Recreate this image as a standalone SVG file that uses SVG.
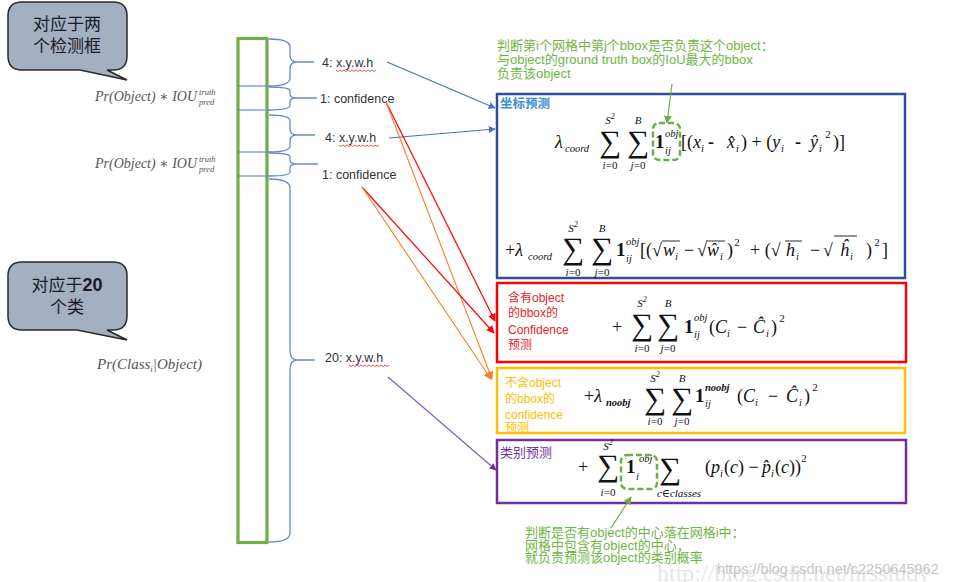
<svg xmlns="http://www.w3.org/2000/svg" width="967" height="582" viewBox="0 0 967 582">
<defs>
<style>
.lbl{font-family:"Liberation Sans","Noto Sans CJK SC",sans-serif;font-size:12.5px;fill:#333}
.cjk{font-family:"Liberation Sans","Noto Sans CJK SC",sans-serif}
.call{font-family:"Noto Sans CJK SC","Liberation Sans",sans-serif;font-size:17px;fill:#1a1a2a;text-anchor:middle}
.m{font-family:"Liberation Serif","DejaVu Serif",serif;font-size:18px;fill:#111}
.it{font-style:italic}
.sub{font-family:"Liberation Serif","DejaVu Serif",serif;font-size:10.5px;font-style:italic;fill:#111}
.lim{font-family:"Liberation Serif","DejaVu Serif",serif;font-size:11px;fill:#111;text-anchor:middle}
.sig{font-family:"Liberation Serif","DejaVu Serif",serif;font-size:31px;fill:#111;text-anchor:middle}
.one{font-family:"Liberation Serif","DejaVu Serif",serif;font-size:19px;font-weight:bold;fill:#111}
.pr{font-family:"Liberation Serif","DejaVu Serif",serif;font-style:italic;fill:#555}
.brace{fill:none;stroke:#6c86d4;stroke-width:1.3}
.div{stroke:#6c86d4;stroke-width:1.2}
.g{font-family:"Liberation Sans","Noto Sans CJK SC",sans-serif;font-size:13px;fill:#6fb544}
.dash{fill:none;stroke:#70ad47;stroke-width:2.5;stroke-dasharray:6,3}
.ol{stroke:#111;stroke-width:0.9}
</style>
<marker id="ab" viewBox="0 0 10 10" refX="9" refY="5" markerWidth="7" markerHeight="7" orient="auto" markerUnits="userSpaceOnUse"><path d="M0,0 L10,5 L0,10 z" fill="#4472c4"/></marker>
<marker id="ar" viewBox="0 0 10 10" refX="9" refY="5" markerWidth="8" markerHeight="8" orient="auto" markerUnits="userSpaceOnUse"><path d="M0,0 L10,5 L0,10 z" fill="#ff0000"/></marker>
<marker id="ao" viewBox="0 0 10 10" refX="9" refY="5" markerWidth="8" markerHeight="8" orient="auto" markerUnits="userSpaceOnUse"><path d="M0,0 L10,5 L0,10 z" fill="#f4822a"/></marker>
<marker id="ap" viewBox="0 0 10 10" refX="9" refY="5" markerWidth="7" markerHeight="7" orient="auto" markerUnits="userSpaceOnUse"><path d="M0,0 L10,5 L0,10 z" fill="#7030a0"/></marker>
<marker id="ag" viewBox="0 0 10 10" refX="9" refY="5" markerWidth="8" markerHeight="8" orient="auto" markerUnits="userSpaceOnUse"><path d="M0,0 L10,5 L0,10 z" fill="#70ad47"/></marker>
</defs>
<rect width="967" height="582" fill="#ffffff"/>

<!-- watermark -->
<g id="watermark">
<text x="657" y="581" font-family="Liberation Serif,serif" font-size="24" fill="#e6e6e6">http://blog.csdn.net/hrsstudy</text>
<text x="717" y="574" font-family="Liberation Sans,sans-serif" font-size="14.5" fill="#c6c6c6">https://blog.csdn.net/c2250645962</text>
</g>

<!-- callouts -->
<g id="callout1">
<path d="M22,2 H113 Q127,2 127,16 V56 Q127,70 113,70 H107 L127,80 L80,70 H22 Q8,70 8,56 V16 Q8,2 22,2 Z" fill="#a2b0c1" stroke="#2a2a2a" stroke-width="1.5"/>
<text class="call" x="67" y="30">对应于两</text>
<text class="call" x="67" y="52">个检测框</text>
</g>
<g id="callout2">
<path d="M22,262 H113 Q127,262 127,276 V316 Q127,330 113,330 H107 L127,340 L77,330 H22 Q8,330 8,316 V276 Q8,262 22,262 Z" fill="#a2b0c1" stroke="#2a2a2a" stroke-width="1.5"/>
<text class="call" x="67" y="291">对应于<tspan font-family="Liberation Sans,sans-serif" font-weight="bold" font-size="18">20</tspan></text>
<text class="call" x="67" y="313">个类</text>
</g>

<!-- left formulas -->
<g id="pr1"><text class="pr" x="95" y="101" font-size="14">Pr(Object) ∗ IOU</text><text class="pr" x="199" y="95" font-size="8.5">truth</text><text class="pr" x="199" y="105" font-size="8.5">pred</text></g>
<g id="pr2"><text class="pr" x="95" y="168" font-size="14">Pr(Object) ∗ IOU</text><text class="pr" x="199" y="162" font-size="8.5">truth</text><text class="pr" x="199" y="172" font-size="8.5">pred</text></g>
<g id="pr3"><text class="pr" x="97" y="369" font-size="15">Pr(Class<tspan font-size="9" dy="3">i</tspan><tspan dy="-3">|Object)</tspan></text></g>

<!-- output vector column -->
<g id="column">
<rect x="238" y="38.5" width="29" height="504" fill="none" stroke="#70ad47" stroke-width="3.2"/>
<line class="div" x1="238" y1="86" x2="270" y2="86"/>
<line class="div" x1="238" y1="110" x2="270" y2="110"/>
<line class="div" x1="238" y1="152" x2="270" y2="152"/>
<line class="div" x1="238" y1="176" x2="270" y2="176"/>
</g>

<g id="braces">
<path class="brace" d="M269,39 Q290,39 290,47 V55 Q290,62 297,62 H314 M269,86 Q290,86 290,78 V69 Q290,62 297,62"/>
<path class="brace" d="M269,87 Q290,87 290,91 V94 Q290,98 297,98 H317 M269,110 Q290,110 290,105 V102 Q290,98 297,98"/>
<path class="brace" d="M269,115 Q290,115 290,121 V129 Q290,135 297,135 H315 M269,152 Q290,152 290,146 V141 Q290,135 297,135"/>
<path class="brace" d="M269,153 Q290,153 290,157 V160 Q290,164 297,164 H318 M269,176 Q290,176 290,172 V168 Q290,164 297,164"/>
<path class="brace" d="M269,179 Q290,179 290,188 V350 Q290,360 297,360 H315 M269,542 Q290,542 290,533 V370 Q290,360 297,360"/>
</g>

<g id="labels">
<text class="lbl" x="322" y="67">4: x.y.w.h</text>
<text class="lbl" x="320" y="103">1: confidence</text>
<text class="lbl" x="325" y="142">4: x.y.w.h</text>
<text class="lbl" x="322" y="179">1: confidence</text>
<text class="lbl" x="325" y="362">20:  x.y.w.h</text>
<g fill="none" stroke="#e03030" stroke-width="0.8">
<path d="M336,70 l2,1.5 l2,-1.5 l2,1.5 l2,-1.5 l2,1.5 l2,-1.5 l2,1.5 l2,-1.5 l2,1.5 l2,-1.5 l2,1.5 l2,-1.5 l2,1.5 l2,-1.5 l2,1.5 l2,-1.5 l2,1.5 l2,-1.5 l2,1.5 l2,-1.5"/>
<path d="M339,145 l2,1.5 l2,-1.5 l2,1.5 l2,-1.5 l2,1.5 l2,-1.5 l2,1.5 l2,-1.5 l2,1.5 l2,-1.5 l2,1.5 l2,-1.5 l2,1.5 l2,-1.5 l2,1.5 l2,-1.5 l2,1.5 l2,-1.5 l2,1.5 l2,-1.5"/>
<path d="M349,365 l2,1.5 l2,-1.5 l2,1.5 l2,-1.5 l2,1.5 l2,-1.5 l2,1.5 l2,-1.5 l2,1.5 l2,-1.5 l2,1.5 l2,-1.5 l2,1.5 l2,-1.5 l2,1.5 l2,-1.5 l2,1.5 l2,-1.5 l2,1.5 l2,-1.5"/>
</g>
</g>

<!-- top green note -->
<g id="note-top">
<text class="g" x="497" y="50">判断第i个网格中第j个bbox是否负责这个object：</text>
<text class="g" x="497" y="64">与object的ground truth box的IoU最大的bbox</text>
<text class="g" x="497" y="78">负责该object</text>
</g>

<!-- blue box -->
<g id="box-coord">
<rect x="497" y="94" width="408" height="184" fill="none" stroke="#2f4f9c" stroke-width="2.5"/>
<text x="500" y="108" font-family="Noto Sans CJK SC,sans-serif" font-size="12.5" font-weight="bold" fill="#3d8fd4">坐标预测</text>
<text class="m it" x="555" y="148">λ</text><text class="sub" x="565" y="152">coord</text>
<text class="sig" x="610" y="152">∑</text><text class="lim it" x="610" y="124">S<tspan font-size="8" dy="-5">2</tspan></text><text class="lim" x="610" y="169"><tspan class="it">i</tspan>=0</text>
<text class="sig" x="638" y="152">∑</text><text class="lim it" x="638" y="124">B</text><text class="lim" x="638" y="169"><tspan class="it">j</tspan>=0</text>
<text class="one" x="655" y="148">1</text><text class="sub" x="665" y="137">obj</text><text class="sub" x="665" y="154">ij</text>
<rect class="dash" x="653" y="123" width="27" height="37" rx="6"/>
<text class="m" x="681" y="148">[(<tspan class="it">x</tspan></text><text class="sub" x="701" y="152">i</text>
<text class="m" x="708" y="148" font-weight="bold">-</text>
<text class="m it" x="727" y="148">x̂</text><text class="sub" x="736" y="152">i</text>
<text class="m" x="741" y="148">) + (<tspan class="it">y</tspan></text><text class="sub" x="781" y="152">i</text>
<text class="m" x="795" y="148" font-weight="bold">-</text>
<text class="m it" x="810" y="148">ŷ</text><text class="sub" x="819" y="152">i</text><text class="lim" x="828" y="138">2</text>
<text class="m" x="833" y="148">)]</text>

<text class="m" x="505" y="256">+<tspan class="it">λ</tspan></text><text class="sub" x="528" y="260">coord</text>
<text class="sig" x="573" y="259">∑</text><text class="lim it" x="573" y="232">S<tspan font-size="8" dy="-5">2</tspan></text><text class="lim" x="573" y="276"><tspan class="it">i</tspan>=0</text>
<text class="sig" x="602" y="259">∑</text><text class="lim it" x="602" y="232">B</text><text class="lim" x="602" y="276"><tspan class="it">j</tspan>=0</text>
<text class="one" x="616" y="256">1</text><text class="sub" x="626" y="245">obj</text><text class="sub" x="626" y="262">ij</text>
<text class="m" x="640" y="256">[(√</text><text class="m it" x="663" y="256">w</text><text class="sub" x="675" y="260">i</text><line class="ol" x1="662" y1="241" x2="680" y2="241"/>
<text class="m" x="684" y="256">−</text>
<text class="m" x="697" y="256">√</text><text class="m it" x="707" y="256">ŵ</text><text class="sub" x="720" y="260">i</text><line class="ol" x1="706" y1="241" x2="725" y2="241"/>
<text class="m" x="727" y="256">)</text><text class="lim" x="737" y="246">2</text>
<text class="m" x="750" y="256">+ (√</text><text class="m it" x="786" y="256">h</text><text class="sub" x="796" y="260">i</text><line class="ol" x1="785" y1="241" x2="802" y2="241"/>
<text class="m" x="810" y="256">−</text>
<text class="m" x="823" y="256">√</text><text class="m it" x="840" y="256">ĥ</text><text class="sub" x="850" y="260">i</text><line class="ol" x1="834" y1="236" x2="857" y2="236"/>
<text class="m" x="866" y="256">)</text><text class="lim" x="877" y="246">2</text><text class="m" x="882" y="256">]</text>
</g>

<!-- red box -->
<g id="box-conf-obj">
<rect x="497" y="283" width="409" height="79" fill="none" stroke="#ff0000" stroke-width="2.5"/>
<text class="cjk" x="508" y="302" font-size="12" fill="#e8232a">含有object</text>
<text class="cjk" x="508" y="317" font-size="12" fill="#e8232a">的bbox的</text>
<text class="cjk" x="508" y="334" font-size="12" fill="#e8232a">Confidence</text>
<text class="cjk" x="508" y="349" font-size="12" fill="#e8232a">预测</text>
<text class="m" x="612" y="333">+</text>
<text class="sig" x="642" y="335">∑</text><text class="lim it" x="642" y="307">S<tspan font-size="8" dy="-5">2</tspan></text><text class="lim" x="642" y="352"><tspan class="it">i</tspan>=0</text>
<text class="sig" x="668" y="335">∑</text><text class="lim it" x="668" y="307">B</text><text class="lim" x="668" y="352"><tspan class="it">j</tspan>=0</text>
<text class="one" x="684" y="333">1</text><text class="sub" x="694" y="321">obj</text><text class="sub" x="694" y="338">ij</text>
<text class="m" x="709" y="333">(<tspan class="it">C</tspan></text><text class="sub" x="727" y="337">i</text>
<text class="m" x="737" y="333">−</text>
<text class="m it" x="753" y="333">Ĉ</text><text class="sub" x="766" y="337">i</text>
<text class="m" x="771" y="333">)</text><text class="lim" x="782" y="322">2</text>
</g>

<!-- yellow box -->
<g id="box-conf-noobj">
<rect x="497" y="368" width="408" height="65" fill="none" stroke="#ffc000" stroke-width="2.5"/>
<text class="cjk" x="505" y="387" font-size="12" fill="#ffc000">不含object</text>
<text class="cjk" x="505" y="403" font-size="12" fill="#ffc000">的bbox的</text>
<text class="cjk" x="505" y="419" font-size="12" fill="#ffc000">confidence</text>
<text class="cjk" x="505" y="432" font-size="12" fill="#ffc000">预测</text>
<text class="m" x="584" y="402">+<tspan class="it">λ</tspan></text><text class="sub" x="606" y="406" font-weight="bold">noobj</text>
<text class="sig" x="655" y="409">∑</text><text class="lim it" x="655" y="382">S<tspan font-size="8" dy="-5">2</tspan></text><text class="lim" x="655" y="425"><tspan class="it">i</tspan>=0</text>
<text class="sig" x="682" y="409">∑</text><text class="lim it" x="682" y="382">B</text><text class="lim" x="682" y="425"><tspan class="it">j</tspan>=0</text>
<text class="one" x="695" y="402">1</text><text class="sub" x="705" y="391" font-weight="bold">noobj</text><text class="sub" x="705" y="407">ij</text>
<text class="m" x="737" y="402">(<tspan class="it">C</tspan></text><text class="sub" x="755" y="406">i</text>
<text class="m" x="768" y="402">−</text>
<text class="m it" x="786" y="402">Ĉ</text><text class="sub" x="799" y="406">i</text>
<text class="m" x="804" y="402">)</text><text class="lim" x="815" y="391">2</text>
</g>

<!-- purple box -->
<g id="box-class">
<rect x="497" y="440" width="409" height="63" fill="none" stroke="#7030a0" stroke-width="2.5"/>
<text x="500" y="457" font-family="Noto Sans CJK SC,sans-serif" font-size="13" fill="#7030a0">类别预测</text>
<text class="m" x="578" y="473">+</text>
<text class="sig" x="608" y="476">∑</text><text class="lim it" x="608" y="450">S<tspan font-size="8" dy="-5">2</tspan></text><text class="lim" x="608" y="496"><tspan class="it">i</tspan>=0</text>
<text class="one" x="626" y="473">1</text><text class="sub" x="639" y="462">obj</text><text class="sub" x="636" y="480">i</text>
<rect class="dash" x="621" y="455" width="36" height="34" rx="6"/>
<text class="sig" x="670" y="479">∑</text><text class="lim it" x="679" y="497">c∈classes</text>
<text class="m" x="705" y="473">(<tspan class="it">p</tspan></text><text class="sub" x="720" y="477">i</text>
<text class="m" x="724" y="473">(<tspan class="it">c</tspan>) −</text>
<text class="m it" x="762" y="473">p̂</text><text class="sub" x="771" y="477">i</text>
<text class="m" x="775" y="473">(<tspan class="it">c</tspan>))</text><text class="lim" x="804" y="462">2</text>
</g>

<!-- bottom green note -->
<g id="note-bottom">
<text class="g" x="525" y="537" font-size="12.5">判断是否有object的中心落在网格i中：</text>
<text class="g" x="525" y="549.5" font-size="12.5">网格中包含有object的中心，</text>
<text class="g" x="525" y="562" font-size="12.5">就负责预测该object的类别概率</text>
</g>

<!-- connectors -->
<g id="connectors" fill="none">
<line x1="387" y1="62" x2="495" y2="108" stroke="#4472c4" stroke-width="1.2" marker-end="url(#ab)"/>
<line x1="389" y1="138" x2="495" y2="129" stroke="#4472c4" stroke-width="1.2" marker-end="url(#ab)"/>
<line x1="386" y1="102" x2="495" y2="321" stroke="#ff0000" stroke-width="1.2" marker-end="url(#ar)"/>
<line x1="386" y1="102" x2="492" y2="379" stroke="#f4822a" stroke-width="1.1" marker-end="url(#ao)"/>
<line x1="362" y1="187" x2="494" y2="333" stroke="#ff0000" stroke-width="1.2" marker-end="url(#ar)"/>
<line x1="362" y1="187" x2="491" y2="379" stroke="#f4822a" stroke-width="1.1" marker-end="url(#ao)"/>
<line x1="388" y1="377" x2="496" y2="470" stroke="#7f5fb8" stroke-width="1.2" marker-end="url(#ap)"/>
<line x1="672" y1="84" x2="667" y2="123" stroke="#70ad47" stroke-width="1.2" marker-end="url(#ag)"/>
<line x1="611" y1="528" x2="631" y2="497" stroke="#70ad47" stroke-width="1.2" marker-end="url(#ag)"/>
</g>
</svg>
